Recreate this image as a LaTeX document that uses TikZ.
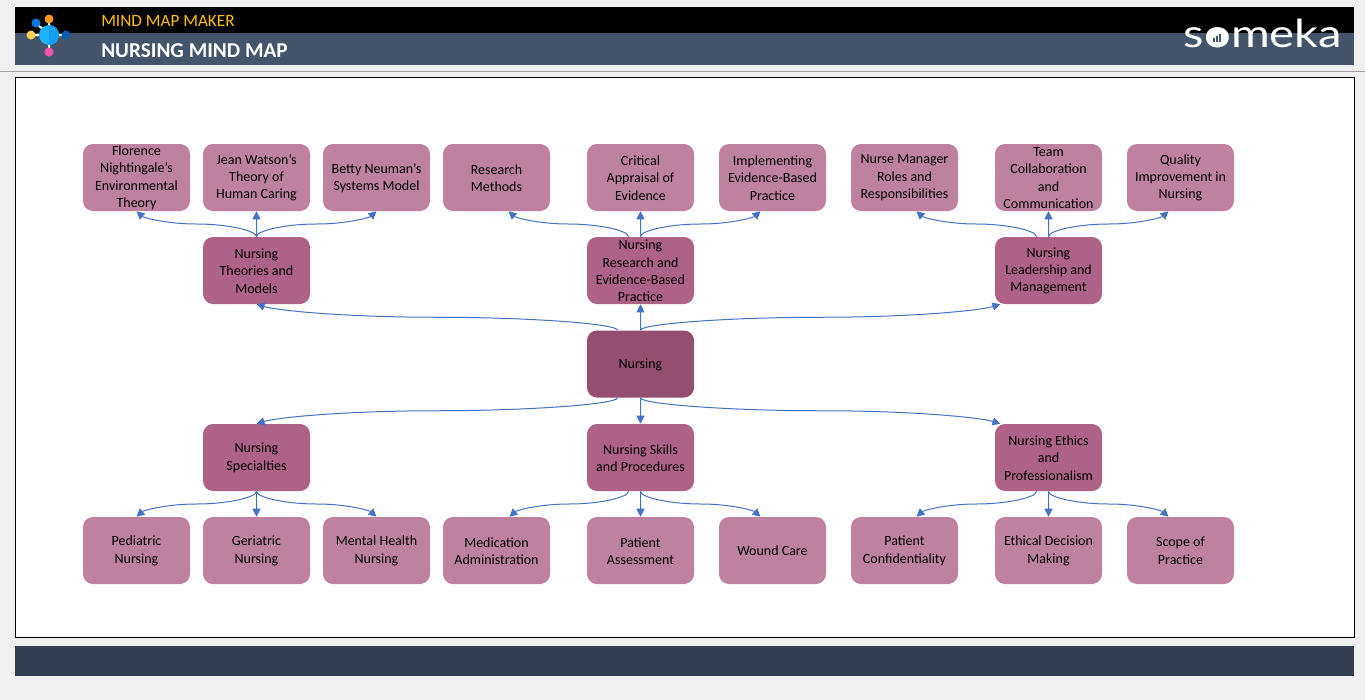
\documentclass[tikz,border=0pt]{standalone}
\usepackage{fontspec}
\setmainfont{Carlito}
\newfontfamily\logofont{Lato}
\definecolor{aa}{RGB}{147, 78, 112}
\definecolor{bb}{RGB}{174, 98, 135}
\definecolor{cc}{RGB}{190, 130, 160}
\definecolor{dd}{RGB}{68, 114, 196}
\definecolor{ee}{RGB}{68, 84, 106}
\definecolor{ff}{RGB}{51, 63, 80}
\definecolor{gg}{RGB}{240, 240, 240}
\definecolor{hh}{RGB}{255, 192, 0}
\definecolor{l1}{RGB}{26, 180, 255}
\definecolor{l2}{RGB}{20, 158, 240}
\definecolor{l3}{RGB}{255, 150, 30}
\definecolor{l4}{RGB}{10, 120, 225}
\definecolor{l5}{RGB}{255, 210, 80}
\definecolor{l6}{RGB}{10, 90, 175}
\definecolor{l7}{RGB}{255, 80, 175}
\usetikzlibrary{positioning,calc,arrows.meta}
\def\pxw{0.75pt}
\def\height{67*\pxw}
\def\width{107*\pxw}
\tikzset{
	mapbox/.style={minimum height=\height,minimum width=\width,rectangle,rounded corners=7.5pt,inner sep=0pt},
	maptext/.style={align=center,inner sep=0pt,text=black,yshift=-0.3pt,font=\fontsize{10.5}{13}\selectfont},
	maplink/.style={color=dd,line width=0.75pt,-{Triangle[length=6pt,width=6pt]}},
	band/.style={rectangle,inner sep=0pt,minimum width=1339*\pxw}
}
\newcommand{\mapnode}[5]{\node[mapbox,fill=#4] (#3) at (#1,#2) {};
	\node[maptext] (#3-text) at (#3) {#5}; }
\newcommand{\mapcurve}[4]{\draw[maplink] let \p1=([xshift=#2*\pxw]#1), \p2=([xshift=#4*\pxw]#3), \n1={0.5*\x1+0.5*\x2}, \n2={0.5*\y1+0.5*\y2} in
	(\p1) .. controls (\x1,{0.75*\y1+0.25*\y2}) and ({0.75*\x1+0.25*\x2},\n2) .. (\n1,\n2)
	.. controls ({0.25*\x1+0.75*\x2},\n2) and ({0.06*\x1+0.94*\x2},{0.25*\y1+0.75*\y2}) .. (\p2); }
\begin{document}
\begin{tikzpicture}[x=0.75pt,y=-0.75pt]
	\useasboundingbox[fill=gg] (0,0) rectangle (1365,700);

	% header
	\node[band,minimum height=26*\pxw,fill=black] (topband) at (684.5,20) {};
	\node[band,minimum height=32*\pxw,fill=ee] (titleband) at (684.5,49) {};
	\node[anchor=west,inner sep=0pt,text=hh,font=\fontsize{12.9}{15}\selectfont] (maker) at (101,20.5) {MIND MAP MAKER};
	\node[anchor=west,inner sep=0pt,text=white,font=\fontsize{15.9}{18}\selectfont\bfseries] (title) at (101,50.5) {NURSING MIND MAP};
	\node[anchor=base,inner sep=0pt,text=white,xscale=1.22,transform shape,font=\fontsize{29}{32}\logofont] (brand) at (1263,47) {someka};
	\fill[white] (1217,37.5) circle (10);
	\fill[ee] (1212.5,38) rectangle (1214.5,42);
	\fill[ee] (1215.5,36) rectangle (1217.5,42);
	\fill[ee] (1218.5,33.5) rectangle (1220.5,42);
	\draw[gg!67!black,line width=0.75pt] (0,71.5) -- (1365,71.5);

	% logo
	\draw[white,line width=1.5pt] (49,19) -- (49,52) (36,23) -- (49,35) (31,35) -- (66,35);
	\fill[l3] (49,19) circle (4.5);
	\fill[l4] (36,23) circle (4.5);
	\fill[l5] (31,35) circle (4.5);
	\fill[l6] (66,35) circle (4.5);
	\fill[l7] (49,52) circle (4.5);
	\fill[l1] (49,35) circle (10);
	\fill[l2] (49,45) arc (90:-90:10) -- cycle;

	% canvas and footer
	\node[rectangle,draw=black,fill=white,line width=0.75pt,minimum width=1339*\pxw,minimum height=560*\pxw,inner sep=0pt] (canvas) at (685,357.5) {};
	\node[band,minimum height=30*\pxw,fill=ff] (footer) at (684.5,661) {};

	\mapnode{136.5}{177.5}{florence}{cc}{Florence\\Nightingale's\\Environmental\\Theory}
	\mapnode{256.5}{177.5}{watson}{cc}{Jean Watson's\\Theory of\\Human Caring}
	\mapnode{376.5}{177.5}{neuman}{cc}{Betty Neuman's\\Systems Model}
	\mapnode{496.5}{177.5}{methods}{cc}{Research\\Methods}
	\mapnode{640.5}{177.5}{appraisal}{cc}{Critical\\Appraisal of\\Evidence}
	\mapnode{772.5}{177.5}{implement}{cc}{Implementing\\Evidence-Based\\Practice}
	\mapnode{904.5}{177.5}{manager}{cc}{Nurse Manager\\Roles and\\Responsibilities}
	\mapnode{1048.5}{177.5}{team}{cc}{Team\\Collaboration\\and\\Communication}
	\mapnode{1180.5}{177.5}{quality}{cc}{Quality\\Improvement in\\Nursing}

	\mapnode{256.5}{270.5}{theories}{bb}{Nursing\\Theories and\\Models}
	\mapnode{640.5}{270.5}{research}{bb}{Nursing\\Research and\\Evidence-Based\\Practice}
	\mapnode{1048.5}{270.5}{leadership}{bb}{Nursing\\Leadership and\\Management}

	\mapnode{640.5}{364}{nursing}{aa}{Nursing}

	\mapnode{256.5}{457.5}{specialties}{bb}{Nursing\\Specialties}
	\mapnode{640.5}{457.5}{skills}{bb}{Nursing Skills\\and Procedures}
	\mapnode{1048.5}{457.5}{ethics}{bb}{Nursing Ethics\\and\\Professionalism}

	\mapnode{136.5}{550.5}{pediatric}{cc}{Pediatric\\Nursing}
	\mapnode{256.5}{550.5}{geriatric}{cc}{Geriatric\\Nursing}
	\mapnode{376.5}{550.5}{mental}{cc}{Mental Health\\Nursing}
	\mapnode{496.5}{550.5}{medication}{cc}{Medication\\Administration}
	\mapnode{640.5}{550.5}{assessment}{cc}{Patient\\Assessment}
	\mapnode{772.5}{550.5}{wound}{cc}{Wound Care}
	\mapnode{904.5}{550.5}{confidential}{cc}{Patient\\Confidentiality}
	\mapnode{1048.5}{550.5}{decision}{cc}{Ethical Decision\\Making}
	\mapnode{1180.5}{550.5}{scope}{cc}{Scope of\\Practice}

	\mapcurve{nursing.north}{-23}{theories.south}{0}
	\mapcurve{nursing.north}{0}{research.south}{0}
	\mapcurve{nursing.north}{0}{leadership.south}{-48}
	\mapcurve{nursing.south}{-23}{specialties.north}{0}
	\mapcurve{nursing.south}{0}{skills.north}{0}
	\mapcurve{nursing.south}{0}{ethics.north}{-48}

	\mapcurve{theories.north}{0}{florence.south}{0}
	\mapcurve{theories.north}{0}{watson.south}{0}
	\mapcurve{theories.north}{0}{neuman.south}{0}
	\mapcurve{research.north}{-12}{methods.south}{12}
	\mapcurve{research.north}{0}{appraisal.south}{0}
	\mapcurve{research.north}{0}{implement.south}{-12}
	\mapcurve{leadership.north}{-12}{manager.south}{12}
	\mapcurve{leadership.north}{0}{team.south}{0}
	\mapcurve{leadership.north}{0}{quality.south}{-12}

	\mapcurve{specialties.south}{0}{pediatric.north}{0}
	\mapcurve{specialties.south}{0}{geriatric.north}{0}
	\mapcurve{specialties.south}{0}{mental.north}{0}
	\mapcurve{skills.south}{-12}{medication.north}{13}
	\mapcurve{skills.south}{0}{assessment.north}{0}
	\mapcurve{skills.south}{0}{wound.north}{-12}
	\mapcurve{ethics.south}{-12}{confidential.north}{12}
	\mapcurve{ethics.south}{0}{decision.north}{0}
	\mapcurve{ethics.south}{0}{scope.north}{-12}
\end{tikzpicture}
\end{document}
